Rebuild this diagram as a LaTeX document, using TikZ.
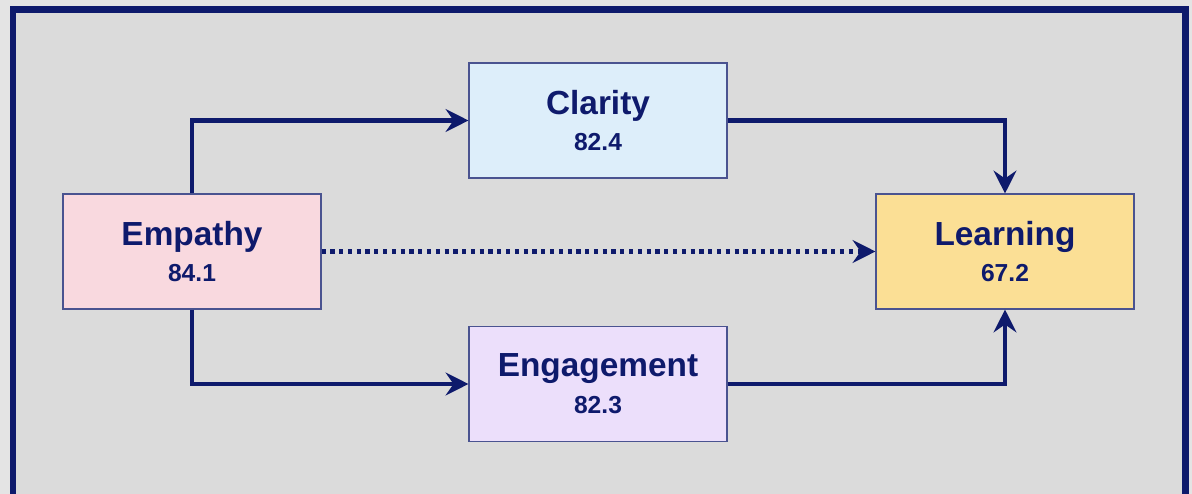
\documentclass[tikz,border=0pt]{standalone}
\usepackage{fontspec}
\setmainfont{Liberation Sans}
\usetikzlibrary{arrows.meta}

\definecolor{navy}{HTML}{0E1A6C}
\definecolor{edgeblue}{HTML}{4A5390}
\definecolor{paneback}{HTML}{DBDBDB}
\definecolor{pageback}{HTML}{E4E4E4}
\definecolor{pinkfill}{HTML}{F9D9DF}
\definecolor{bluefill}{HTML}{DDEEFA}
\definecolor{lilacfill}{HTML}{ECDFFB}
\definecolor{goldfill}{HTML}{FBDF95}

\tikzset{
    factor/.style={draw=edgeblue, line width=0.6pt, minimum width=5.16cm, minimum height=2.3cm,
        align=center, text=navy, font=\fontsize{19}{21}\selectfont\bfseries},
    path/.style={draw=navy, line width=2.4pt, -{Stealth[length=13pt,width=13pt,inset=4.5pt]}},
    direct/.style={path, dash pattern=on 2.4pt off 2.6pt}
}
\newcommand{\score}[1]{{\fontsize{14}{21}\selectfont\bfseries #1}}

\begin{document}
\begin{tikzpicture}
                \useasboundingbox (0, 0) rectangle (23.84, -9.88);
                \fill[pageback] (0, 0) rectangle (23.84, -9.88);
                \draw[navy, fill=paneback, line width=3.5pt] (0.26, -0.19) rectangle (23.71, -10.2);
                
                \node[factor, fill=pinkfill] (empathy) at (3.84, -5.03) {Empathy\\\score{84.1}};
                \node[factor, fill=bluefill] (clarity) at (11.96, -2.41) {Clarity\\\score{82.4}};
                \node[factor, fill=lilacfill] (engagement) at (11.96, -7.68) {Engagement\\\score{82.3}};
                \node[factor, fill=goldfill] (learning) at (20.10, -5.03) {Learning\\\score{67.2}};
                
                \draw [path] (empathy.north) |- (clarity.west);
                \draw [path] (clarity.east) -| (learning.north);
                \draw [path] (empathy.south) |- (engagement.west);
                \draw [path] (engagement.east) -| (learning.south);
                \draw [direct] (empathy.east) -- (learning.west);
            \end{tikzpicture}
\end{document}
